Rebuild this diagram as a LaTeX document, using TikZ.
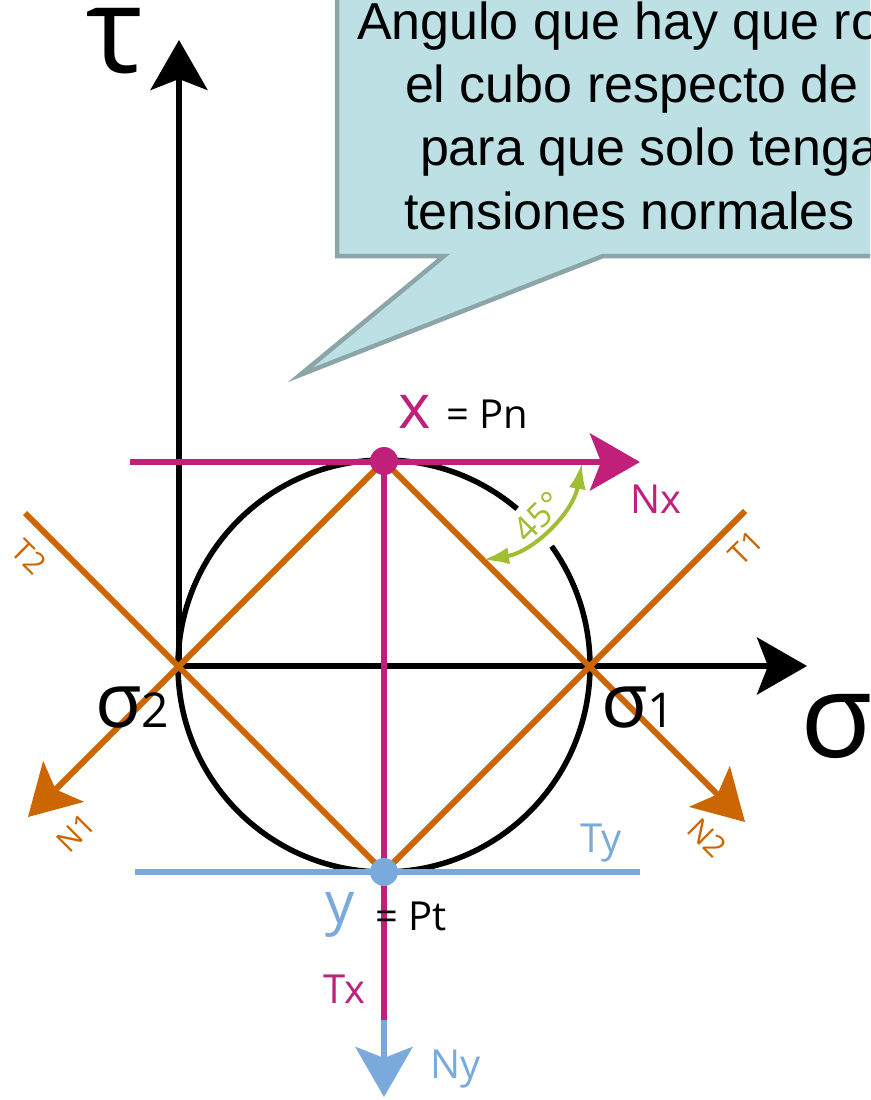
\documentclass[tikz,border=0pt]{standalone}
\usepackage{fontspec}
\setmainfont{Open Sans}
\newfontfamily\bubblefont{Liberation Sans}
\usetikzlibrary{arrows.meta}
\definecolor{mag}{HTML}{C1207A}
\definecolor{ora}{HTML}{CC6600}
\definecolor{blu}{HTML}{7AAADC}
\definecolor{grn}{HTML}{A0BE32}
\definecolor{bubfill}{HTML}{BCE0E4}
\definecolor{bubline}{HTML}{8CA5A8}
\begin{document}
\begin{tikzpicture}[x=1pt,y=-1pt,
  fs/.style={font=\fontsize{#1}{#1}\selectfont},
  lbl/.style={inner sep=0pt, outer sep=0pt, anchor=base west},
  rlbl/.style={inner sep=0pt, outer sep=0pt, anchor=center},
  bigtip/.style={-{Stealth[length=50pt,width=57pt,inset=11pt]}},
  axis/.style={line width=5.5pt, black},
  oline/.style={line width=6pt, ora},
  mline/.style={line width=6pt, mag},
  bline/.style={line width=6pt, blu},
  bubble/.style={fill=bubfill, draw=bubline, line width=4.5pt, line join=miter}]
\useasboundingbox (0,0) rectangle (870,1100);
\clip (0,0) rectangle (870,1100);

% key points
\coordinate (O) at (384,666);
\coordinate (X) at (384,461);
\coordinate (Y) at (384,872);
\coordinate (S1) at (590,666);
\coordinate (S2) at (179,666);
\coordinate (TauTip) at (179,40);
\coordinate (SigTip) at (807,666);
\coordinate (NxStart) at (130,462);
\coordinate (NxTip) at (640,462);
\coordinate (TyStart) at (135,872);
\coordinate (TyEnd) at (640,872);
\coordinate (TxEnd) at (384,1020);
\coordinate (NyTip) at (384,1097);
\coordinate (N1Tip) at (28,817);
\coordinate (N2Tip) at (745,822);
\coordinate (T1End) at (745,511);
\coordinate (T2End) at (25,513);
\coordinate (G1) at (483,560);
\coordinate (G2) at (582,463);
\coordinate (GC1) at (533,552);
\coordinate (GC2) at (573,513);

% speech bubble
\draw[bubble] (337,-20) -- (337,256) -- (444,256) -- (300,375) -- (603,256)
  -- (900,256) -- (900,-20) -- cycle;
\node[lbl, fs=52] (b1) at (357,39) {\bubblefont Angulo que hay que ro};
\node[lbl, fs=52] (b2) at (405,102) {\bubblefont el cubo respecto de};
\node[lbl, fs=52] (b3) at (420,165) {\bubblefont para que solo tenga};
\node[lbl, fs=52] (b4) at (404,229) {\bubblefont tensiones normales};

% axes
\draw[axis, bigtip] (S2) -- (TauTip);
\draw[axis, bigtip] (S2) -- (SigTip);

% Mohr circle with a gap near the angle mark
\draw[line width=5.5pt, black] (O) circle[radius=206pt];
\fill[white] (541.7,553.1) -- (561.3,539.1) -- (544.4,518.3) -- (525.0,499.7)
  -- (509.5,518.0) -- (526.7,534.6) -- cycle;

% orange lines
\draw[oline, bigtip] (X) -- (N1Tip);
\draw[oline, bigtip] (X) -- (N2Tip);
\draw[oline] (T2End) -- (Y);
\draw[oline] (Y) -- (T1End);

% magenta and blue lines
\draw[mline, bigtip] (NxStart) -- (NxTip);
\draw[mline] (X) -- (TxEnd);
\draw[bline] (TyStart) -- (TyEnd);
\draw[bline, bigtip] (TxEnd) -- (NyTip);

% poles
\fill[mag] (X) circle[radius=14pt];
\fill[blu] (Y) circle[radius=14pt];

% 45 degree angle
\draw[grn, line width=4pt, {Latex[length=26pt,width=17pt]}-{Latex[length=26pt,width=17pt]}]
  (G1) .. controls (GC1) and (GC2) .. (G2);
\node[rlbl, fs=34, text=grn, rotate=45] (ang) at (538,517) {45°};

% labels
\node[lbl, fs=120] (tau) at (86,72) {τ};
\node[lbl, fs=118] (sig) at (800,757) {σ};
\node[lbl] (s2lbl) at (95,727) {\fontsize{76}{76}\selectfont σ\fontsize{48}{48}\selectfont 2};
\node[lbl] (s1lbl) at (601,727) {\fontsize{76}{76}\selectfont σ\fontsize{48}{48}\selectfont 1};
\node[lbl, fs=62, text=mag] (xl) at (398,428) {x};
\node[lbl, fs=40] (pn) at (446,428) {= Pn};
\node[lbl, fs=40, text=mag] (nx) at (630,513) {Nx};
\node[lbl, fs=40, text=blu] (ty) at (580,852) {Ty};
\node[lbl, fs=58, text=blu] (yl) at (325,923) {y};
\node[lbl, fs=40] (pt) at (375,930) {= Pt};
\node[lbl, fs=40, text=mag] (tx) at (323,1003) {Tx};
\node[lbl, fs=40, text=blu] (ny) at (430,1078) {Ny};
\node[rlbl, fs=30, text=ora, rotate=45] (t1) at (746,548) {T1};
\node[rlbl, fs=30, text=ora, rotate=-45] (t2) at (29,557) {T2};
\node[rlbl, fs=30, text=ora, rotate=45] (n1) at (76,833) {N1};
\node[rlbl, fs=30, text=ora, rotate=-45] (n2) at (707,838) {N2};
\end{tikzpicture}
\end{document}
